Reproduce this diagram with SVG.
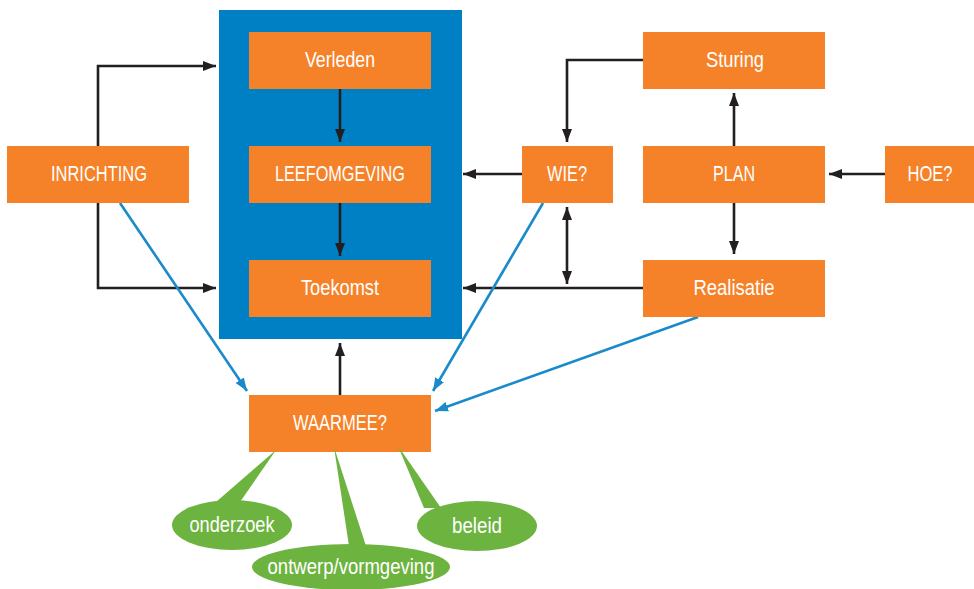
<svg xmlns="http://www.w3.org/2000/svg" width="974" height="589" viewBox="0 0 974 589">
<style>
.box{fill:#f58228}
.bubble{fill:#6db33f}
.t{fill:#fff;font-family:"Liberation Sans Narrow","Liberation Sans",Arial,sans-serif;font-size:22px;text-anchor:middle}
.k{fill:none;stroke:#231f20;stroke-width:2.6}
.b{fill:none;stroke:#1b8acb;stroke-width:2.6}
</style>
<defs>
<marker id="ak" markerUnits="userSpaceOnUse" markerWidth="14" markerHeight="11" refX="13" refY="5.5" orient="auto-start-reverse" viewBox="0 0 14 11"><path d="M0,0.5 L13,5.5 L0,10.5 z" fill="#231f20"/></marker>
<marker id="ab" markerUnits="userSpaceOnUse" markerWidth="14" markerHeight="11" refX="13" refY="5.5" orient="auto" viewBox="0 0 14 11"><path d="M0,0.5 L13,5.5 L0,10.5 z" fill="#1b8acb"/></marker>
</defs>
<rect id="tijd" x="219" y="10" width="243" height="329" fill="#0080c4"/>
<g id="connectors">
<path class="k" d="M340,89 V142" marker-end="url(#ak)"/>
<path class="k" d="M340,203 V256" marker-end="url(#ak)"/>
<path class="k" d="M98,146 V66 H216" marker-end="url(#ak)"/>
<path class="k" d="M98,203 V288 H216" marker-end="url(#ak)"/>
<path class="k" d="M643,60 H567 V142" marker-end="url(#ak)"/>
<path class="k" d="M522,174 H463" marker-end="url(#ak)"/>
<path class="k" d="M643,288 H463" marker-end="url(#ak)"/>
<path class="k" d="M567,207 V284" marker-start="url(#ak)" marker-end="url(#ak)"/>
<path class="k" d="M734,146 V93" marker-end="url(#ak)"/>
<path class="k" d="M734,203 V254" marker-end="url(#ak)"/>
<path class="k" d="M885,174 H829" marker-end="url(#ak)"/>
<path class="k" d="M340,395 V343" marker-end="url(#ak)"/>
<path class="b" d="M120,203 L247,391" marker-end="url(#ab)"/>
<path class="b" d="M543,203 L433,391" marker-end="url(#ab)"/>
<path class="b" d="M698,317 L435,411" marker-end="url(#ab)"/>
</g>
<g id="verleden"><rect class="box" x="249" y="32" width="182" height="57"/><text class="t" x="340" y="67" textLength="70" lengthAdjust="spacingAndGlyphs">Verleden</text></g>
<g id="leefomgeving"><rect class="box" x="249" y="146" width="182" height="57"/><text class="t" x="340" y="181" textLength="130" lengthAdjust="spacingAndGlyphs">LEEFOMGEVING</text></g>
<g id="toekomst"><rect class="box" x="249" y="260" width="182" height="57"/><text class="t" x="340" y="295" textLength="78" lengthAdjust="spacingAndGlyphs">Toekomst</text></g>
<g id="inrichting"><rect class="box" x="7" y="146" width="182" height="57"/><text class="t" x="99" y="181" textLength="96" lengthAdjust="spacingAndGlyphs">INRICHTING</text></g>
<g id="sturing"><rect class="box" x="643" y="32" width="182" height="57"/><text class="t" x="735" y="67" textLength="58" lengthAdjust="spacingAndGlyphs">Sturing</text></g>
<g id="wie"><rect class="box" x="522" y="146" width="91" height="57"/><text class="t" x="567" y="181" textLength="40" lengthAdjust="spacingAndGlyphs">WIE?</text></g>
<g id="plan"><rect class="box" x="643" y="146" width="182" height="57"/><text class="t" x="734" y="181" textLength="42" lengthAdjust="spacingAndGlyphs">PLAN</text></g>
<g id="hoe"><rect class="box" x="885" y="146" width="89" height="57"/><text class="t" x="930" y="181" textLength="45" lengthAdjust="spacingAndGlyphs">HOE?</text></g>
<g id="realisatie"><rect class="box" x="643" y="260" width="182" height="57"/><text class="t" x="734" y="295" textLength="81" lengthAdjust="spacingAndGlyphs">Realisatie</text></g>
<g id="waarmee"><rect class="box" x="249" y="395" width="182" height="57"/><text class="t" x="340" y="430" textLength="94" lengthAdjust="spacingAndGlyphs">WAARMEE?</text></g>
<g id="onderzoek"><path class="bubble" d="M276,450 L240,502 L216,502 z"/><ellipse class="bubble" cx="232" cy="525" rx="60" ry="25"/><text class="t" x="232" y="532" textLength="85" lengthAdjust="spacingAndGlyphs">onderzoek</text></g>
<g id="ontwerp"><path class="bubble" d="M334,447 L366,546 L349,546 z"/><ellipse class="bubble" cx="351" cy="567" rx="99" ry="23"/><text class="t" x="351" y="574" textLength="167" lengthAdjust="spacingAndGlyphs">ontwerp/vormgeving</text></g>
<g id="beleid"><path class="bubble" d="M398,446 L441,508 L424,508 z"/><ellipse class="bubble" cx="477" cy="526" rx="60" ry="25"/><text class="t" x="477" y="533" textLength="50" lengthAdjust="spacingAndGlyphs">beleid</text></g>
</svg>
